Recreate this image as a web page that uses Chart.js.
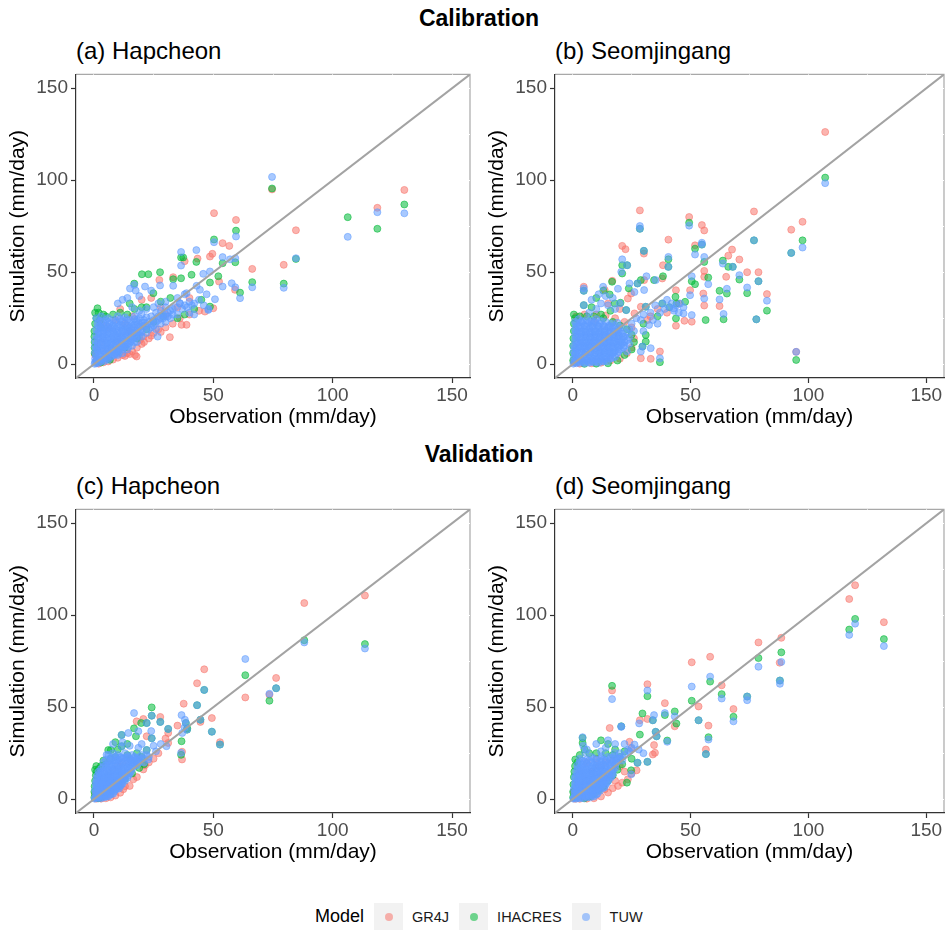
<!DOCTYPE html>
<html>
<head>
<meta charset="utf-8">
<script src="https://cdn.jsdelivr.net/npm/chart.js@4.4.1/dist/chart.umd.min.js"></script>
<style>
  body { margin: 0; width: 949px; height: 930px; background: #fff; position: relative; overflow: hidden;
         font-family: "Liberation Sans", Arial, sans-serif; }
  .main { position: absolute; left: 379px; width: 200px; text-align: center; font-weight: bold;
          font-size: 23px; line-height: 28px; color: #000; }
  .ptitle { position: absolute; font-size: 24px; line-height: 28px; color: #000; white-space: nowrap; }
  canvas { position: absolute; }
  #legend { position: absolute; left: 315px; top: 903px; height: 27px; display: flex; align-items: center; }
  #legend .name { font-size: 18px; color: #000; margin-right: 10px; }
  #legend .key { width: 29px; height: 27px; background: #F2F2F2; position: relative; }
  #legend .dot { position: absolute; left: 10.5px; top: 10px; width: 8px; height: 8px; border-radius: 50%; }
  #legend .lab { font-size: 14.5px; color: #1A1A1A; margin-left: 9px; margin-right: 10px; }
</style>
</head>
<body>
<div class="main" style="top:4px">Calibration</div>
<div class="main" style="top:440px">Validation</div>
<div class="ptitle" style="left:76px;top:37px">(a) Hapcheon</div>
<div class="ptitle" style="left:555px;top:37px">(b) Seomjingang</div>
<div class="ptitle" style="left:76px;top:472px">(c) Hapcheon</div>
<div class="ptitle" style="left:555px;top:472px">(d) Seomjingang</div>
<canvas id="panelA" width="475" height="370" style="left:0;top:60px"></canvas>
<canvas id="panelB" width="470" height="370" style="left:479px;top:60px"></canvas>
<canvas id="panelC" width="475" height="370" style="left:0;top:495px"></canvas>
<canvas id="panelD" width="470" height="370" style="left:479px;top:495px"></canvas>
<div id="legend"></div>

<script>
// ----------------------
// Data (observation, simulation) in mm/day
// ----------------------
const models = ["GR4J", "IHACRES", "TUW"];
const modelColors = ["248,118,109", "0,186,56", "97,156,255"];

const axisMin = -7.5;
const axisMax = 157.5;
const gridTicks = [0, 25, 50, 75, 100, 125, 150];
const labelTicks = [0, 50, 100, 150];

// (a) Hapcheon - calibration
const hapCalGR4J = [
  [2,0.3],[4,1],[6,1.5],[8,2.5],[10,3.5],[12,5],[14,6],[16,7],[17.2,5],[17.9,4.2],[18,9],[20,11],
  [19.3,13.2],[20.7,15],[23,14],[25,17],[27,19],[30,20],[31.8,14.7],[33,22],[36,25],[38.8,21.4],
  [36.7,21.4],[40,27],[44,29],[46.5,28.6],[50,30.4],[52.4,44.9],[59.1,40.4],[27.4,45.8],[33.2,47.3],
  [43.4,57.4],[48.6,58.5],[49.6,60],[53.9,65.8],[56.7,64.3],[50.3,82.1],[59.5,78.4],[74.6,95],
  [130,94.7],[118.7,85],[84.6,72.8],[79.5,54],[66.3,51.8],[38,56],[20,35],[24,36],[28,31],[15,18],
  [10,12],[5,8],[1,2],[0.5,5],[3,12],[6,20],[9,24],[13,22],[16,26],[11,30],[3,22],[30,27],[35,31],[40,36],
  [13,4.5],[15,5.5],[21,12],[24,15.5],[28,17.5]
];
const hapCalIHACRES = [
  [0.5,28],[1.5,30.4],[0.2,18],[0.5,22],[1,25],[2.5,24],[4,27],[3,20],[0.3,12],[0.3,6],[5,26],[8,27],
  [11,28],[14,27],[17,30],[20,31],[22,31],[15,33],[20.1,48.9],[22.8,48.9],[16.9,43.8],[24.9,38.6],
  [27.7,50],[33.2,46.2],[36.5,46.7],[36.5,58],[37.4,58],[42.9,55.6],[53.9,54.9],[59.2,55.4],[59.5,72.6],
  [50.3,67.8],[74.6,95.5],[130,86.8],[118.7,73.6],[106.3,79.9],[84.6,57.2],[79.5,43.8],[66.3,44.6],
  [48.6,44.4],[52.1,47.8],[40.9,48.6],[61.2,38.9],[48.6,31.3],[28,34],[32,36],[35,25],[38,27],[42,30],
  [45,35],[13,9],[10,7],[6,3],[3,1],[18,14],[22,19],[25,23],[29,26],[6.7,2.4],[0.2,15],[0.3,9],[2,28]
];
const hapCalTUW = [
  [0.3,0.2],[1,0.5],[2,0.8],[3,1.5],[4.5,1.8],[6,2.5],[0.5,3],[1.5,4],[3,4.5],[5,4],[7,4],[8.5,5],
  [0.5,6.5],[2,7],[4,7],[6,7.5],[8,7],[10,7.5],[12,8],[0.5,10],[2,10],[4,10.5],[6,10],[8,10.5],[10,11],
  [12,11],[14,11],[0.5,13],[2.5,13.5],[4.5,13],[6.5,13.5],[8.5,13],[10.5,14],[12.5,13.5],[14.5,14],[16,13.5],
  [1,16],[3,16.5],[5,16],[7,16.5],[9,16],[11,16.5],[13,17],[15,16.5],[17,17],[19,17],[1,19],[3,19.5],
  [5,19],[7,19.5],[9,19],[11,20],[13,19.5],[15,20],[17,20],[19,20.5],[21,21],[1.5,22],[4,22.5],[6.5,22],
  [9,22.5],[12,23],[15,22.5],[18,23],[21,24],[23,23],[1,25],[3,26],[6,25],[10,26],[13,25.5],[17,26],
  [20,27],[24,26],[26,28],[28,29],[30,31],[32,29],[34,31],[36,33],[38,32],[40,34],[42,33],[44,35],[46,32],
  [48,30],[35,36],[38,38],[30,34],[27,33],[25,31],[22,30],[19,29],[16,31],[14,36],[12,35],[10,33],
  [17.5,40],[19,37],[24,40],[27.7,42.8],[21.4,42.2],[15.1,41.1],[16.9,43.1],[33.2,42.6],[36.5,61],
  [36.5,53.6],[42.9,62],[53.9,58.2],[57,57],[59.2,57.6],[59.5,69.4],[50.3,66.3],[74.6,101.8],[130,82],
  [118.7,82.6],[106.3,69.2],[84.6,57.6],[79.5,41.5],[66.3,41.8],[48.6,50.4],[45.8,49.1],[43,42.6],
  [44.4,40.4],[47.2,38],[53.9,42.2],[57.7,44],[59.2,41.8],[61.2,35.9],[50.7,35.3],[47.9,29.5],[36,33.2],
  [38.8,38.6],[40,28],[42,27],[35,27],[32,25],[30,23],[28,22],[26,19],[24,20],[22,17],[20,15],[18,12],
  [16,10],[14,8],[12,6],[10,5],[26.7,15],
  [1,1.8],[2.5,2.5],[4,3],[5.5,5.5],[7,6],[9,6],[1,8.5],[3,8.5],[5,8.5],[7,9],[9,9],[11,9.5],[13,9.5],
  [1.5,11.5],[3.5,12],[5.5,11.5],[7.5,12],[9.5,12.5],[11.5,12.5],[13.5,12.5],[15.5,12.5],[2,14.5],[4,15],
  [6,14.5],[8,15],[10,15],[12,15.5],[14,15.5],[16,15],[18,15.5],[2,18],[4,18],[6,17.5],[8,18],[10,18],
  [12,18.5],[14,18.5],[16,18.5],[18,18.5],[20,19],[2.5,21],[5,21],[8,21],[11,21.5],[14,21],[17,21.5],
  [20,22.5],[22,21],[2,23.5],[5,24],[8,24],[11,24.5],[14,24],[17,24.5],[19,25],[22,25.5],[25,24],[27,26],
  [29,27],[31,28],[33,30],[37,30],[39,31],[41,32],[23,19],[25,21],[27,24],[29,25],[31,26],[33,27],
  [0.5,1.2],[1.5,2.5],[3.5,2.5],[5.5,3],[7.5,4.5],[9.5,5.5],[0.8,5],[2.5,5.5],[4.5,5.5],[6.5,6],[8.5,6.5],
  [10.5,6.5],[11,8.5],[1.5,7.5],[3.5,7.5],[5.5,9.5],[7.5,8],[9.5,8],[12.5,9.5],[14.5,9.5],[1.5,9.5],[3,11],
  [5,11],[7,11],[9,11.5],[11,11.5],[13,11],[15,11.5],[17,12],[1.5,14],[3.5,14.5],[5.5,14],[7.5,14],
  [9.5,14.5],[11.5,14.5],[13.5,15],[15.5,14],[17.5,14.5],[19,15.5],[2,17],[4,17.5],[6,18.5],[8,17.5],
  [10,17],[12,17.5],[14,17.5],[16,17],[18,17.5],[20,17.5],[2,20.5],[4,20],[6,20.5],[8,20],[10,20.5],
  [12,21],[14,20],[16,20.5],[18,21.5],[20,20.5],[3,23.5],[6,23],[9,23.5],[12,24],[15,24],[18,24],
  [21,22.5],[24,22],[26,23],[28,25],[30,26]
];

// (b) Seomjingang - calibration
const seoCalGR4J = [
  [0.5,1],[3,0.3],[8,0.5],[12,0.8],[16,2],[20,3],[23,6],[25,9],[26,14],[25,20],[22,23],[18,25],[14,26.5],
  [10,27],[5,27],[1.5,26],[4.7,42.1],[13.6,40.3],[16.8,45.3],[21,64.3],[22.4,62.5],[24.8,38.4],[23.4,35.7],
  [28.9,31.2],[26.2,27.6],[31.7,24],[28.9,3.2],[33.1,2.9],[37,6.9],[28.5,83.6],[30.2,60.1],[30.3,45.7],
  [38,46.6],[38.3,53.8],[40.6,67.7],[43.8,40.2],[43.8,20.9],[47.4,23.6],[49.8,40.2],[50.5,23.1],[51.9,64.6],
  [49.4,80],[54.8,75.6],[55.8,72.7],[55.8,50.7],[55.8,47.5],[55.4,38.4],[55.8,31.9],[62.3,31.6],[65.1,47.5],
  [66,59],[67.6,62.3],[70.7,56.9],[74,50],[78.8,50],[82.4,38.1],[76.9,83],[92.7,73.1],[97.5,77.4],
  [94.8,6.7],[107.1,126.2],[36,30],[40,28],[33,26],[45,33],[20,30],[9,23],[15,33]
];
const seoCalIHACRES = [
  [0.2,2],[0.2,6],[0.2,10],[0.3,14],[0.5,18],[0.5,22],[1,25],[3,26],[0.5,27],[6,26],[9,26],[13,25],
  [17,23],[20,21],[23,19],[25,16],[26,12],[25,8],[22,5],[19,2],[15,0.5],[10,0.3],[5,0.2],[12,27],[16,29],
  [8,31],[15.7,37.9],[17.8,33],[20.3,33.4],[22.7,29.4],[23.8,41.2],[28.9,45.7],[16.7,44.8],[21,53.8],
  [21,49.3],[23.1,53.8],[30.2,61.6],[28.5,73.6],[34.5,45.7],[38.3,47.8],[40.6,52.9],[31,15.9],[31,12.3],
  [29.6,9.6],[37,1.1],[31,31.2],[40.6,57],[43.6,36.6],[47.7,33.9],[43.8,24.9],[50.5,45.1],[51.9,43.5],
  [51.9,62.8],[55.8,55.6],[57.5,47.1],[56.4,24],[54.8,65],[49.4,76.9],[63.7,56.3],[66,52.9],[67.9,52.9],
  [65.4,38.4],[62.3,39.9],[64,24.4],[70.7,46],[74,38.6],[78.8,45.1],[77.9,24.4],[82.4,29.1],[76.9,67.3],
  [92.7,60.5],[97.5,67.3],[107.1,101.4],[94.8,2.3],[4.7,39.9],[4.7,32.1],[27.5,43.9],[38,33],[41,31],
  [44,33],[36,26],[30,22],[13,40],[10,36]
];
const seoCalTUW = [
  [0.3,0.3],[1.5,0.5],[3,0.8],[5,0.5],[7,0.8],[9,1],[11,0.8],[13,1.5],[0.5,3.5],[2,4],[4,3.5],[6,4],
  [8,3.5],[10,4],[12,4.5],[14,4],[16,4.5],[18,4],[0.5,7],[2,7.5],[4,7],[6,7.5],[8,7],[10,7.5],[12,7],
  [14,7.5],[16,7],[18,7.5],[20,8],[0.5,10],[2.5,10.5],[4.5,10],[6.5,10.5],[8.5,10],[10.5,10.5],[12.5,10],
  [14.5,10.5],[16.5,10],[18.5,11],[20.5,10.5],[22,10],[1,13],[3,13.5],[5,13],[7,13.5],[9,13],[11,13.5],
  [13,13],[15,13.5],[17,13],[19,14],[21,13.5],[23,13],[1,16],[3,16.5],[5,16],[7,16.5],[9,16],[11,16.5],
  [13,16],[15,16.5],[17,16],[19,17],[21,16.5],[23,17],[1,19],[3,19.5],[5,19],[7,19.5],[9,19],[11,19.5],
  [13,19],[15,20],[17,19.5],[19,19],[21,20],[1.5,22],[4,22.5],[6.5,22],[9,22.5],[11.5,22],[14,23],
  [16.5,22],[19,22.5],[2.5,24.5],[6,24],[10,24.5],
  [107.1,98.4],[97.5,63.4],[92.7,60.5],[76.9,67.3],[94.8,6.7],[82.4,34.5],[78.8,45.1],[74,41.7],[77.9,24.4],
  [70.7,48.4],[63.7,54.7],[67.9,52.9],[65.4,41],[62.3,35.2],[64,27.3],[49.4,75.3],[54.8,66],[54.8,65],
  [51.9,59.6],[55.8,58.3],[57.5,43.5],[55.8,35.7],[50.5,47.8],[49.8,37.5],[45.6,33],[42.9,30.3],[47,27.6],
  [50.5,26.7],[40.6,58.3],[40.6,52.9],[35.2,45.7],[31.3,47.8],[30.2,61.6],[28.5,73.6],[28.5,75.1],[21,57],
  [23.1,53.8],[20.6,50.2],[12.9,42.1],[4.7,41.2],[4.7,39.9],[4.7,32.1],[19.2,41],[24.1,43.9],[27.5,43.9],
  [30.3,40.3],[26.2,39.2],[22.7,29.4],[31,31.2],[28.9,24],[32.4,21.3],[28.9,6.9],[29.6,9.6],[33.1,8.7],
  [37,3.2],[38,33],[40,35],[42,33],[41,31],[39,30],[44,32],[37,28],[43,29],[35,32],[33,28],[30,27],
  [27,25],[25,22],[26,18],[24,19],[30,18],[34,24],[36,22],[45,28],[47,31],[7,28],[10,30],[12,33],[15,32],
  [18,30],[8,35],[14,37],[17,36],[20,33],[11,38],
  [1,2],[2.5,2],[4,2],[6,2],[8,2],[10,2.5],[12,2.5],[14,2.5],[16,3],[1,5.5],[3,5.5],[5,5.5],[7,5.5],
  [9,5.5],[11,6],[13,6],[15,6],[17,6],[19,6],[1.5,8.5],[3.5,9],[5.5,8.5],[7.5,9],[9.5,8.5],[11.5,9],
  [13.5,8.5],[15.5,9],[17.5,9],[19.5,9.5],[21.5,9],[2,12],[4,12],[6,12],[8,12],[10,12],[12,12],[14,12],
  [16,12],[18,12.5],[20,12],[22,12],[2,15],[4,15],[6,15],[8,15],[10,15],[12,15],[14,15],[16,15],[18,15.5],
  [20,15],[22,15],[2,18],[4,18],[6,18],[8,18],[10,18],[12,18],[14,18.5],[16,18],[18,18],[20,18.5],
  [2.5,21],[5,21],[8,21],[10.5,21],[13,21],[15.5,21],[18,21],[4,23.5],[8,23.5],[12,23.5],[24,14.5],
  [24,11],[23,7],
  [0.8,1.2],[2.2,1.2],[4.5,1.2],[6.5,1.2],[8.5,1.5],[10.5,1.5],[12.5,1.8],[14.5,1.5],[1.5,3],[3,3],[5,3],
  [7,3],[9,3],[11,3.2],[13,3.2],[15,3.5],[17,3.5],[1.2,6],[3.5,6.5],[5.5,6.5],[7.5,6.5],[9.5,6.5],
  [11.5,6.5],[13.5,6.5],[15.5,6.5],[17.5,6.5],[19.5,7],[1,9],[3,9.5],[5,9.5],[7,9.5],[9,9.5],[11,9.5],
  [13,9.5],[15,9.5],[17,9.5],[19,10],[21,11.5],[1.5,11.5],[3.5,11.5],[5.5,11.5],[7.5,11.5],[9.5,11.5],
  [11.5,11.5],[13.5,11.5],[15.5,11.5],[17.5,11.5],[19.5,12.5],[1.5,14.5],[3.5,14.5],[5.5,14.5],[7.5,14.5],
  [9.5,14.5],[11.5,14.5],[13.5,14.5],[15.5,14.5],[17.5,14.5],[19.5,15.5],[21.5,15],[1.5,17.5],[3.5,17.5],
  [5.5,17.5],[7.5,17.5],[9.5,17.5],[11.5,17.5],[13.5,17.5],[15.5,17.5],[17.5,17.5],[19.5,18],[1.5,20.5],
  [3.5,20.5],[6,20.5],[8.5,20.5],[11,20.5],[13.5,20.5],[16,20.5],[1,23],[3.5,23],[7,23],[9.5,23]
];

// (c) Hapcheon - validation
const hapValGR4J = [
  [1,0.3],[3,0.3],[5,0.5],[7,1],[9,2],[11,3.5],[12.3,5.4],[13,7],[15,7.2],[10.9,7.2],[16.5,10.8],[18,12],
  [20.7,16.2],[21.4,18.4],[23,20],[25,22],[27,25],[36.9,21.6],[36.9,25.8],[31.1,30.6],[31.1,36],[27.8,44.7],
  [20.7,43.6],[17.9,42.3],[22.1,34.2],[37.6,51.9],[43.2,63],[46.2,70.6],[44.6,42],[49.4,44.1],[52.8,31],
  [63.4,55.3],[73.5,56.7],[76.3,65.9],[88.1,106.6],[113.5,110.7],[0.5,3],[2,6],[4,10],[6,13],[8,16],
  [10,18],[12,20],[15,22],[18,20],[30,33],[35,40]
];
const hapValIHACRES = [
  [0.2,1],[0.2,4],[0.3,7],[0.5,10],[0.8,13],[1.2,15],[2,16.5],[3,18],[5,19],[7,22],[9,23],[0.5,16],[1,18],
  [4,21],[6,26.7],[7.1,26.7],[10,27],[14,24],[18,25],[20,23],[21,19],[19,17],[16,14],[13,11],[10,8],[7,5],
  [4,2],[2,0.5],[16.8,38.5],[17.6,34.2],[19.8,41.4],[22.1,41.4],[24.2,49.9],[24.2,45.4],[24.2,33.1],
  [27.8,42],[31.1,38.2],[36.7,31.5],[36.5,24.1],[39.1,38.5],[39,37.8],[38.5,41.4],[43.2,51.1],[44.6,43.2],
  [46.2,59.4],[49.4,36.7],[52.8,29.7],[63.4,67.4],[73.5,53.5],[76.3,60.3],[88.1,86.4],[113.5,84.3],
  [11.6,34.9],[11.6,28.8],[22.1,26.7],[14,30],[9,31]
];
const hapValTUW = [
  [0.3,0.3],[1.5,0.5],[3,0.5],[4.5,1],[6,1.5],[1,2.5],[2.5,3],[4,3],[5.5,3.5],[7,3.5],[8.5,4],[0.5,5],
  [2,5.5],[3.5,5.5],[5,6],[6.5,6],[8,6.5],[9.5,6.5],[11,7],[1,7.5],[2.5,8],[4,8],[5.5,8.5],[7,8.5],[8.5,9],
  [10,9],[11.5,9.5],[13,10],[1,10],[2.5,10.5],[4,11],[5.5,11],[7,11.5],[8.5,11.5],[10,12],[11.5,12],
  [13,12.5],[14.5,13],[1.5,13],[3,13.5],[4.5,14],[6,14],[7.5,14.5],[9,15],[10.5,15],[12,15.5],[14,16],
  [16,16.5],[3,16.5],[5,17],[7,17.5],[9,18],[11,18],[13,18.5],[15,19],[17,19.5],[19,20],[4,20],[6,20.5],
  [8,21],[10,21.5],[12,22],[14,22.5],[16,21],[18,22],[20,22],[6,24],[8,25],[10,24],[13,25],[16,24],
  [18.6,27.9],[22,24],[21,20],[23,23],
  [113.5,81.9],[88.1,85.2],[63.4,76.2],[46.2,59.4],[43.2,51.1],[49.4,36.7],[52.8,29.7],[76.3,60.3],
  [73.5,57.3],[44.6,43.2],[36.7,45.7],[38.1,43.2],[38.5,41.4],[39,37.8],[36.5,25.2],[31.1,38.2],[30.4,28.8],
  [27.8,42],[24.2,45.4],[24.2,33.1],[16.8,46.8],[22.1,41.4],[11.6,34.9],[14.4,36],[18.6,36.9],[11.6,28.8],
  [22.1,26.7],[22.8,21.6],[5.3,24.1],[8,30],[12,31],[15,29],[20,30],[25,29],[26,26],[28,30],[24,37],
  [37,36],[38,39],
  [1,1.2],[2,1.5],[3.5,2],[5,2.2],[6.5,2.5],[8,3],[1.5,4],[3,4.2],[4.5,4.5],[6,4.8],[7.5,5],[9,5.2],
  [10.5,5.8],[1.5,6.5],[3,6.8],[4.5,7],[6,7.2],[7.5,7.5],[9,7.8],[10.5,8],[12,8.5],[1.5,9],[3,9.2],
  [4.5,9.5],[6,9.8],[7.5,10],[9,10.5],[10.5,10.8],[12,11],[14,11.5],[2,12],[3.5,12.2],[5,12.5],[6.5,12.8],
  [8,13],[9.5,13.2],[11,13.5],[12.5,14],[14,14.5],[15.5,15],[2,15],[4,15.5],[6,16],[8,16.5],[10,16.5],
  [12,17],[14,17.5],[16,18],[18,18.5],[5,18.5],[7,19],[9,19.5],[11,20],[13,20.5],[15,20.5],[17,21],
  [19,21.5],[7,22.5],[9,23],[11,23],[14,23.5],[17,23],[20,24],
  [0.5,0.8],[2.2,1],[3.8,1.2],[5.2,1.5],[7,2.5],[0.8,3.5],[2,3.8],[3.5,3.8],[5,4.2],[6.5,4.2],[8,4.8],
  [9.5,5.5],[1,6],[2.5,6.2],[4,6.5],[5.5,6.8],[7,6.8],[8.5,7.2],[10,7.2],[11.5,7.8],[0.8,8.5],[2,8.8],
  [3.5,8.8],[5,9.2],[6.5,9.2],[8,9.8],[9.5,9.8],[11,10.2],[12.5,10.8],[1.2,11.5],[2.8,11.8],[4.2,12],
  [5.8,12.2],[7.2,12.5],[8.8,12.8],[10.2,13],[11.8,13.5],[13.5,13.5],[15,14],[2.5,14.2],[4,14.8],[5.5,15],
  [7,15.5],[8.5,15.8],[10,16],[11.5,16.2],[13,16.8],[15,17],[17,18],[4,17.8],[6,18.2],[8,18.5],[10,19],
  [12,19.5],[14,19.8],[16,20],[18,20.5],[5,21.5],[7,21],[9,21],[11,22.5],[13,22.5],[15,22],[17,22.5],[19,23]
];

// (d) Seomjingang - validation
const seoValGR4J = [
  [1,0.2],[3,0.2],[6,0.3],[9,0.5],[12,1.5],[13.6,5.4],[15,3.6],[17,6],[19.2,7.2],[21,9],[23.4,10.8],[25,14],
  [27.1,15.7],[24.1,31.2],[24.8,27.6],[34.5,29.4],[34.9,25.2],[34,24.3],[28.5,42.9],[31.7,43.6],[15.7,38.7],
  [16.7,59.1],[31.7,62.5],[39.1,52.2],[43.3,39.6],[50.5,74.4],[53.4,50.4],[57.6,40],[56.5,27],[58.3,77.4],
  [63.2,61.9],[68.2,49],[78.8,85.2],[88.5,87.7],[87.8,74.2],[117.3,108.8],[119.8,116.3],[132,96.2],
  [0.5,4],[2,8],[5,12],[8,15],[11,18],[14,20],[17,21],[20,18],[22,15],[18,10],[10,22],[6,20],[3,15]
];
const seoValIHACRES = [
  [0.2,1],[0.2,4],[0.3,8],[0.5,12],[0.7,15],[1.1,21.6],[1,18],[2,20],[3,24],[4.2,30.6],[4.2,33.3],[5,27],
  [7,25],[10,25],[14,25],[17,24],[20,23],[21,19],[19,16],[17,13],[15,10],[13,7],[11,5],[9,3],[7,1.5],
  [5,0.5],[23,9],[16.7,61.6],[31.7,56],[39.1,45.7],[43.3,47.7],[44,41.1],[40.1,31.9],[29.6,46.6],[34,42.9],
  [35.2,36.6],[35.6,34.2],[28.5,35.1],[31.7,20.3],[27.5,19.8],[24.8,15.7],[20.6,39.6],[50.5,53.5],
  [53.4,42.9],[57.6,33.7],[56.5,24.5],[58.3,63.9],[63.2,57.1],[68.2,44.8],[74,55.8],[78.8,76.7],[87.9,64.5],
  [88.5,79.8],[117.3,92.2],[119.8,98],[132,87],[15,30],[18,27],[12,32],[22,26],[25,22]
];
const seoValTUW = [
  [0.3,0.3],[1.5,0.3],[3,0.5],[4.5,0.5],[6,1],[7.5,1],[9,1.5],[1,2.5],[2.5,3],[4,3],[5.5,3.5],[7,3.5],
  [8.5,4],[10,4],[11.5,4.5],[0.5,5.5],[2,6],[3.5,6],[5,6.5],[6.5,6.5],[8,7],[9.5,7],[11,7.5],[12.5,8],
  [14,8],[1,8.5],[2.5,9],[4,9],[5.5,9.5],[7,9.5],[8.5,10],[10,10],[11.5,10.5],[13,11],[14.5,11],[16,11.5],
  [1,11.5],[2.5,12],[4,12.5],[5.5,12.5],[7,13],[8.5,13],[10,13.5],[11.5,14],[13,14],[15,14.5],[17,15],
  [1.5,15],[3,15.5],[4.5,16],[6,16],[8,16.5],[10,17],[12,17],[14,17.5],[16,18],[18,18.5],[2,18.5],[4,19],
  [6,19.5],[8,20],[10,20],[12,20.5],[14,21],[16,21.5],[18,22],[20,22],[3,22],[5.3,25.2],[8,23],[12.2,23.4],
  [17.8,25.2],[4.2,33.7],[4.5,29],[6,27],[20,25],[22,24],[24,26],
  [119.8,95.4],[117.3,89.3],[132,83.2],[88.5,74.6],[87.9,64.5],[87.9,62.7],[78.8,72],[58.3,66.6],[50.5,61.2],
  [53.4,42.9],[57.6,32.4],[56.5,24.5],[63.2,54.7],[68.2,42.3],[74,55.8],[74,53.8],[16.7,54.4],[31.7,59.1],
  [39.1,46.8],[43.3,45],[40.1,31.2],[28.2,41.2],[34,42.9],[34.5,45.7],[35.2,36.6],[35.6,34.2],[31.7,20.3],
  [27.5,19.8],[24.8,13.5],[26.2,29.7],[23.4,26.7],[20.6,39.3],[20.6,39.6],[15,32],[18,30],[22,30],[25,28],
  [28,27],[30,25],[14,28],[10,30],[12,26],
  [1,1.2],[2,1.5],[3.5,2],[5,2],[6.5,2.2],[8,2.5],[10,2.5],[1.5,4.2],[3,4.5],[4.5,4.8],[6,5],[7.5,5.2],
  [9,5.5],[10.5,5.8],[12,6.2],[13.5,6.5],[1.5,7.2],[3,7.5],[4.5,7.8],[6,8],[7.5,8.2],[9,8.5],[10.5,8.8],
  [12,9.2],[13.5,9.5],[15,9.8],[2,10.2],[3.5,10.5],[5,10.8],[6.5,11],[8,11.5],[9.5,11.8],[11,12],
  [12.5,12.5],[14,12.8],[15.5,13],[17,13.5],[2,13.5],[3.5,14],[5,14.2],[6.5,14.5],[8,15],[9.5,15.2],
  [11,15.5],[12.5,16],[14,16],[16,16.5],[18,17],[3,17],[5,17.5],[7,18],[9,18.5],[11,18.5],[13,19],
  [15,19.5],[17,20],[19,20.5],[4,21],[6,21.5],[9,22],[12,22],[15,23],[18,23.5],[21,23],
  [0.6,0.8],[2.2,0.8],[3.8,1.2],[5.5,1.5],[7,1.8],[8.5,2],[10.5,3],[0.8,3.5],[2.2,3.8],[3.8,4],[5.2,4.2],
  [6.8,4.5],[8.2,4.8],[9.8,5],[11,5.5],[12.8,6],[1,6.5],[2.5,6.8],[4,7],[5.5,7.2],[7,7.5],[8.5,7.8],
  [10,8],[11.5,8.5],[13,8.8],[14.5,9],[1.2,9.5],[2.8,9.8],[4.2,10],[5.8,10.2],[7.2,10.5],[8.8,11],
  [10.2,11.2],[11.8,11.5],[13.2,12],[14.8,12.2],[16.5,12.5],[1.2,12.5],[2.8,13],[4.2,13.2],[5.8,13.5],
  [7.2,14],[8.8,14.2],[10.2,14.5],[11.8,15],[13.2,15.2],[15,15.5],[17,16],[2,16.5],[4,16.8],[6,17],
  [8,17.5],[10,18],[12,18],[14,18.5],[16,19],[18,19.5],[3,20],[5,20.5],[7,21],[10,21.5],[13,21.5],
  [16,22.5],[19,22],[21,21]
];

// ----------------------
// Helpers
// ----------------------
const fontFamily = '"Liberation Sans", Arial, sans-serif';

function toXY(arr) {
    return arr.map(p => ({ x: p[0], y: p[1] }));
}

// top and right panel edges in light grey (drawn before the white grid cuts it)
const framePlugin = {
    id: "frame",
    beforeDraw(chart) {
        const { ctx, chartArea: a } = chart;
        ctx.save();
        ctx.strokeStyle = "#A8A8A8";
        ctx.lineWidth = 1.2;
        ctx.beginPath();
        ctx.moveTo(a.left, a.top);
        ctx.lineTo(a.right, a.top);
        ctx.lineTo(a.right, a.bottom);
        ctx.stroke();
        ctx.restore();
    }
};

function axisOpts(title, isX) {
    return {
        type: "linear",
        min: axisMin,
        max: axisMax,
        afterBuildTicks: s => { s.ticks = gridTicks.map(v => ({ value: v })); },
        afterFit: s => { if (isX) s.height = 52; else s.width = 76; },
        ticks: {
            color: "#4D4D4D",
            font: { size: 19, family: fontFamily },
            padding: isX ? 1 : 3,
            autoSkip: false,
            maxRotation: 0,
            callback: v => labelTicks.includes(v) ? String(v) : ""
        },
        grid: {
            color: "#FFFFFF",
            lineWidth: 1,
            tickLength: 5,
            tickWidth: 1.2,
            tickColor: c => (c.tick && labelTicks.includes(c.tick.value)) ? "#333333" : "rgba(0,0,0,0)"
        },
        border: { color: "#333333", width: 1.2 },
        title: {
            display: true,
            text: title,
            color: "#000",
            font: { size: 21, family: fontFamily },
            padding: isX ? { top: 0, bottom: 0 } : { top: 6, bottom: 0 }
        }
    };
}

function makePanel(id, series, rightPad) {
    const datasets = [{
        data: [{ x: axisMin, y: axisMin }, { x: axisMax, y: axisMax }],
        showLine: true,
        borderColor: "#A3A3A3",
        borderWidth: 2,
        pointRadius: 0,
        order: 0
    }];
    series.forEach((s, i) => {
        datasets.push({
            label: models[i],
            data: toXY(s),
            backgroundColor: `rgba(${modelColors[i]},0.55)`,
            borderColor: `rgba(${modelColors[i]},0.55)`,
            borderWidth: 1,
            pointRadius: 3.5,
            order: 3 - i
        });
    });

    new Chart(document.getElementById(id), {
        type: "scatter",
        data: { datasets },
        options: {
            responsive: false,
            animation: false,
            devicePixelRatio: 1,
            events: [],
            layout: { padding: { top: 14, right: rightPad, left: 0, bottom: 0 } },
            plugins: { legend: { display: false }, tooltip: { enabled: false } },
            scales: {
                x: axisOpts("Observation (mm/day)", true),
                y: axisOpts("Simulation (mm/day)", false)
            }
        },
        plugins: [framePlugin]
    });
}

// ----------------------
// Panels
// ----------------------
makePanel("panelA", [hapCalGR4J, hapCalIHACRES, hapCalTUW], 5);
makePanel("panelB", [seoCalGR4J, seoCalIHACRES, seoCalTUW], 1);
makePanel("panelC", [hapValGR4J, hapValIHACRES, hapValTUW], 5);
makePanel("panelD", [seoValGR4J, seoValIHACRES, seoValTUW], 1);

// ----------------------
// Legend
// ----------------------
const legend = document.getElementById("legend");
legend.innerHTML = '<span class="name">Model</span>' + models.map((m, i) =>
    `<span class="key"><span class="dot" style="background:rgba(${modelColors[i]},0.55)"></span></span>` +
    `<span class="lab">${m}</span>`).join("");
</script>
</body>
</html>
